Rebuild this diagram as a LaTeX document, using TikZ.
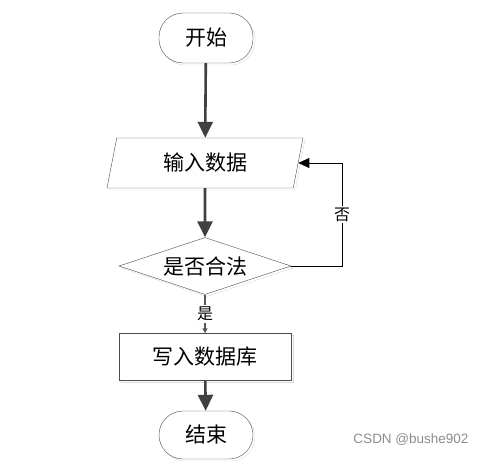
\documentclass[tikz,border=0pt]{standalone}
\usepackage{fontspec}
\newfontfamily\cjk{Noto Sans CJK SC}
\setsansfont{Liberation Sans}
\usetikzlibrary{arrows.meta,positioning,shapes.geometric,shadows}

\begin{document}
\begin{tikzpicture}[
  x=1pt,y=-1pt,
  shade2/.style={drop shadow={shadow xshift=2pt, shadow yshift=-2pt, draw=black!15, fill=none, opacity=1}},
  term/.style={draw=black!70, fill=white, rounded corners=24pt, minimum width=94pt, minimum height=50pt, inner sep=0pt, font=\cjk\fontsize{21}{24}\selectfont, shade2},
  io/.style={draw=black!70, fill=white, trapezium, trapezium left angle=63.4, trapezium right angle=116.6, trapezium stretches body, minimum width=196pt, minimum height=50pt, inner sep=0pt, font=\cjk\fontsize{21}{24}\selectfont, shade2},
  cond/.style={draw=black!70, fill=white, diamond, aspect=3, minimum width=172pt, minimum height=57pt, inner sep=0pt, font=\cjk\fontsize{21}{24}\selectfont, shade2},
  proc/.style={draw=black!70, fill=white, minimum width=172pt, minimum height=47pt, inner sep=0pt, font=\cjk\fontsize{21}{24}\selectfont, shade2},
  flow/.style={-{Triangle[length=16pt,width=15pt]}, line width=2.6pt, draw=black!75},
  back/.style={-{Triangle[length=11pt,width=10pt]}, line width=0.9pt, draw=black},
  yes/.style={-{Triangle[length=5pt,width=5pt]}, line width=1.4pt, draw=black!65},
  lbl/.style={fill=white, inner sep=1.5pt, font=\cjk\fontsize{16}{19}\selectfont}
]
\useasboundingbox (0,0) rectangle (484,468);
\node[term] (start) at (206,38) {开始};
\node[io] (input) at (205,163) {输入数据};
\node[cond] (check) at (205,266) {是否合法};
\node[proc] (save) at (205,357) {写入数据库};
\node[term, minimum height=48pt] (stop) at (206,435) {结束};
\coordinate (turn) at (342,266);
\draw[flow] (start) -- (input);
\draw[flow] (input) -- (check);
\draw[back] (check.east) -- (turn) |- (input) node[lbl, pos=0.25] (no) {否};
\draw[yes] (check) -- (save) node[lbl, midway] (ok) {是};
\draw[flow] (save) -- (stop);
\node[text=black!45, font=\sffamily\fontsize{13.5}{16}\selectfont] (mark) at (411,440) {CSDN @bushe902};
\end{tikzpicture}
\end{document}
